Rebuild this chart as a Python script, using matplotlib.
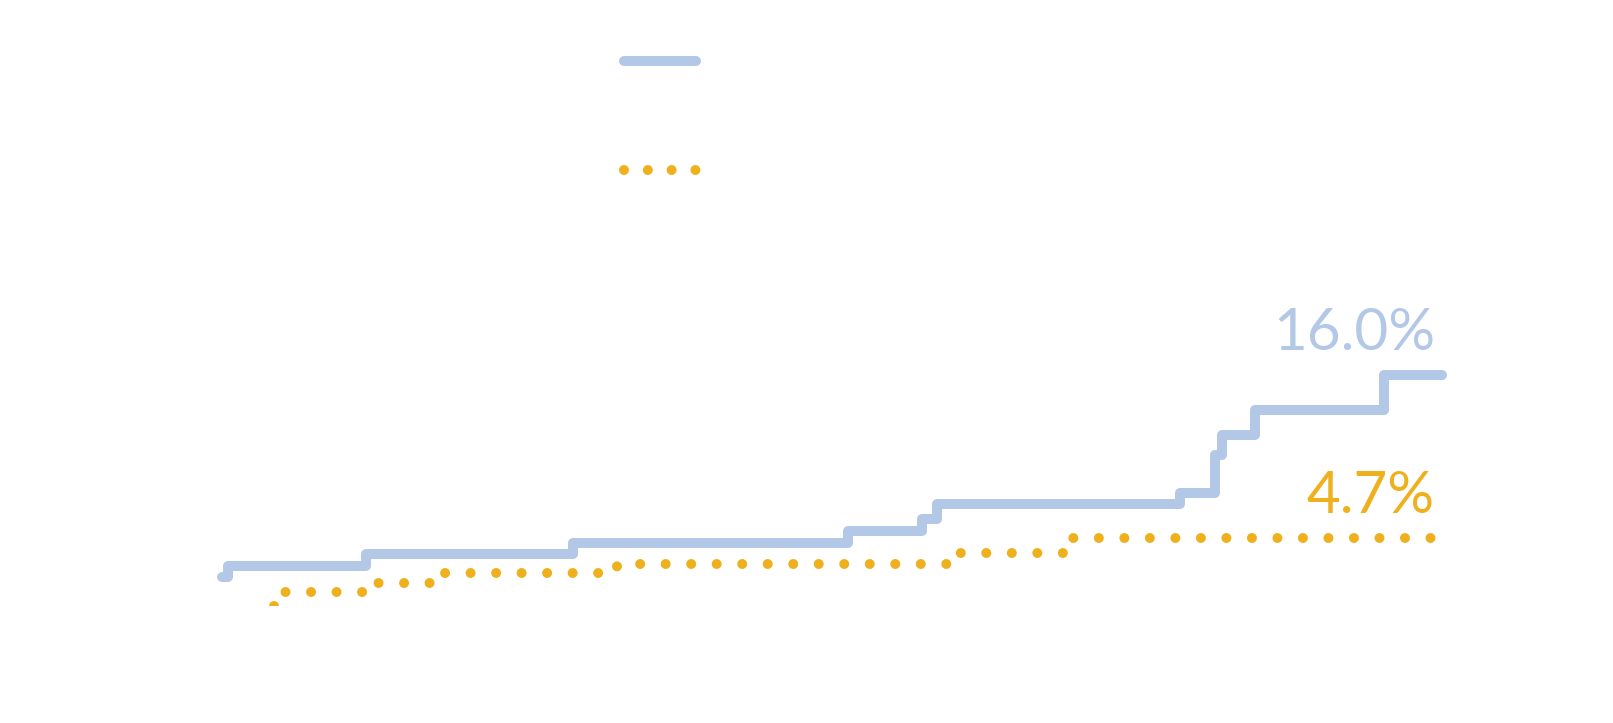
import matplotlib
matplotlib.use('Agg')
import matplotlib.pyplot as plt
from matplotlib.lines import Line2D
import numpy as np

# cumulative incidence (%) over follow-up (months)
blue_t = [0, 0.6, 14.4, 35.1, 62.6, 70.0, 71.5, 95.8, 99.3, 100.0, 103.3, 116.2, 122.0]
blue_y = [2.0, 2.77, 3.6, 4.37, 5.2, 6.03, 7.07, 7.84, 10.47, 11.86, 13.6, 16.0, 16.0]

gold_t = [5.2, 5.4, 15.3, 22.3, 39.5, 73.3, 84.1, 122.0]
gold_y = [0.0, 0.97, 1.6, 2.29, 2.91, 3.68, 4.7, 4.7]

end_labels = ['16.0%', '4.7%']

BLUE = '#b3c8e6'
GOLD = '#efb01e'

fig = plt.figure(figsize=(16.13, 7.23), dpi=100)
ax = fig.add_axes([150/1613, (723-606)/723, (1480-150)/1613, (606-50)/723])

ax.plot(blue_t, blue_y, drawstyle='steps-post', color=BLUE, lw=7.2,
        solid_capstyle='round', solid_joinstyle='round')
ax.plot(gold_t, gold_y, drawstyle='steps-post', color=GOLD, lw=7.2,
        dashes=[0.001, 2.55], dash_capstyle='round')

ax.annotate(end_labels[0], (blue_t[-1], blue_y[-1]), xytext=(-7, 25),
            textcoords='offset pixels', ha='right', va='baseline',
            color=BLUE, fontsize=42, family='Lato')
ax.annotate(end_labels[1], (gold_t[-1], gold_y[-1]), xytext=(-7, 25),
            textcoords='offset pixels', ha='right', va='baseline',
            color=GOLD, fontsize=42, family='Lato')

ax.set_xlim(-7.2, 125.8)
ax.set_ylim(0, 38.56)
ax.axis('off')

# legend keys (labels are blank in the original)
h1 = Line2D([], [], color=BLUE, lw=7.2, solid_capstyle='round')
h2 = Line2D([], [], color=GOLD, lw=7.2, dashes=[0.001, 2.38], dash_capstyle='round')
fig.legend([h1, h2], ['', ''], loc='upper left', bbox_to_anchor=(624/1613, (723-46)/723),
           frameon=False, fontsize=20, handlelength=2.6, handleheight=2,
           labelspacing=2.39, borderpad=0, borderaxespad=0)

fig.savefig('out.png', dpi=100, facecolor='white')
